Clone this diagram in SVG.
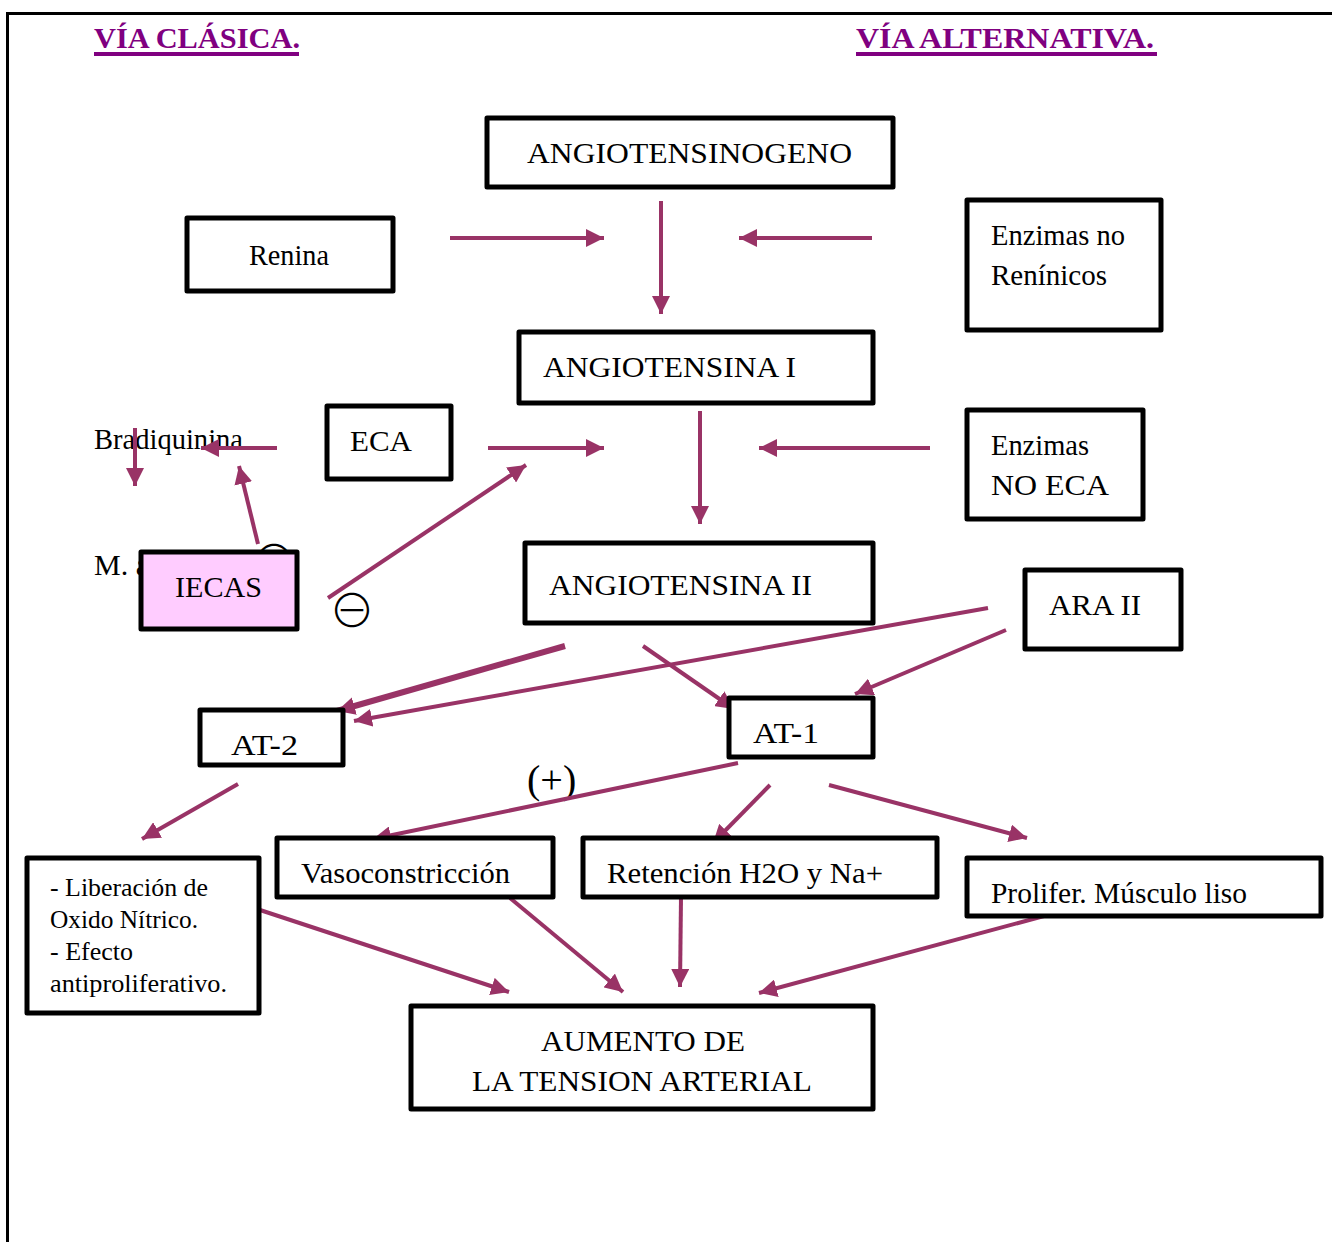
<svg xmlns="http://www.w3.org/2000/svg" width="1332" height="1242" viewBox="0 0 1332 1242">
<style>
  text { font-family: "Liberation Serif", "Times New Roman", serif; fill: #000; }
  .t { font-size: 30px; }
  .s { font-size: 25px; }
  .title { font-size: 29px; font-weight: bold; fill: #800080; }
  .box { fill: #fff; stroke: #000; stroke-width: 5; stroke-linejoin: round; }
  .pink { fill: #FFCCFF; }
  .c { fill: none; stroke: #993366; stroke-width: 4; marker-end: url(#ah); }
  .thick { stroke-width: 6; }
  .sym { font-family: "Noto Sans CJK JP", "DejaVu Sans", sans-serif; font-weight: 300; }
</style>
<defs>
  <marker id="ah" markerUnits="userSpaceOnUse" markerWidth="20" markerHeight="18" refX="18" refY="9" orient="auto">
    <path d="M0,0 L18,9 L0,18 Z" fill="#993366"/>
  </marker>
</defs>
<rect width="1332" height="1242" fill="#fff"/>
<!-- frame -->
<path d="M7.5,1242 L7.5,13.5 L1332,13.5" fill="none" stroke="#000" stroke-width="3"/>

<g id="titles">
  <text class="title" x="94" y="48" textLength="206" lengthAdjust="spacingAndGlyphs">VÍA CLÁSICA.</text>
  <rect x="94" y="52" width="205" height="4" fill="#800080"/>
  <text class="title" x="856" y="48" textLength="298" lengthAdjust="spacingAndGlyphs">VÍA ALTERNATIVA.</text>
  <rect x="856" y="52" width="301" height="4" fill="#800080"/>
</g>

<g id="labels">
  <text class="t" x="94" y="449" textLength="149" lengthAdjust="spacingAndGlyphs">Bradiquinina</text>
  <text class="t" x="94" y="575">M. a</text>
  <text class="sym" x="274" y="578" style="font-size:46px" text-anchor="middle">⊖</text>
  <text class="sym" x="352" y="627" style="font-size:46px" text-anchor="middle">⊖</text>
  <text x="527" y="793" style="font-size:40px">(+)</text>
</g>

<g id="connectors">
  <line class="c" x1="450" y1="238" x2="604" y2="238"/>
  <line class="c" x1="872" y1="238" x2="739" y2="238"/>
  <line class="c" x1="661" y1="201" x2="661" y2="314"/>
  <line class="c" x1="488" y1="448" x2="604" y2="448"/>
  <line class="c" x1="930" y1="448" x2="759" y2="448"/>
  <line class="c" x1="700" y1="411" x2="700" y2="524"/>
  <line class="c" x1="277" y1="448" x2="201" y2="448"/>
  <line class="c" x1="135" y1="428" x2="135" y2="486"/>
  <line class="c" x1="258" y1="544" x2="239" y2="466"/>
  <line class="c" x1="328" y1="598" x2="526" y2="465"/>
  <line class="c thick" x1="565" y1="646" x2="337" y2="711"/>
  <line class="c" x1="988" y1="608" x2="354" y2="721"/>
  <line class="c" x1="643" y1="646" x2="734" y2="709"/>
  <line class="c" x1="1006" y1="630" x2="855" y2="694"/>
  <line class="c" x1="238" y1="784" x2="142" y2="839"/>
  <line class="c" x1="738" y1="763" x2="373" y2="839"/>
  <line class="c" x1="770" y1="785" x2="713" y2="843"/>
  <line class="c" x1="829" y1="785" x2="1027" y2="838"/>
  <line class="c" x1="260" y1="910" x2="509" y2="992"/>
  <line class="c" x1="510" y1="898" x2="623" y2="992"/>
  <line class="c" x1="681" y1="897" x2="680" y2="987"/>
  <line class="c" x1="1044" y1="916" x2="759" y2="993"/>
</g>

<g id="angiotensinogeno">
  <rect class="box" x="487" y="118" width="406" height="69"/>
  <text class="t" x="527" y="163" textLength="325" lengthAdjust="spacingAndGlyphs">ANGIOTENSINOGENO</text>
</g>
<g id="renina">
  <rect class="box" x="187" y="218" width="206" height="73"/>
  <text class="t" x="249" y="265" textLength="80" lengthAdjust="spacingAndGlyphs">Renina</text>
</g>
<g id="enzimas-no-reninicos">
  <rect class="box" x="967" y="200" width="194" height="130"/>
  <text class="t" x="991" y="245" textLength="134" lengthAdjust="spacingAndGlyphs">Enzimas no</text>
  <text class="t" x="991" y="285" textLength="116" lengthAdjust="spacingAndGlyphs">Renínicos</text>
</g>
<g id="angiotensina-1">
  <rect class="box" x="519" y="332" width="354" height="71"/>
  <text class="t" x="543" y="377" textLength="253" lengthAdjust="spacingAndGlyphs">ANGIOTENSINA I</text>
</g>
<g id="eca">
  <rect class="box" x="327" y="406" width="124" height="73"/>
  <text class="t" x="350" y="451" textLength="62" lengthAdjust="spacingAndGlyphs">ECA</text>
</g>
<g id="enzimas-no-eca">
  <rect class="box" x="967" y="410" width="176" height="109"/>
  <text class="t" x="991" y="455" textLength="98" lengthAdjust="spacingAndGlyphs">Enzimas</text>
  <text class="t" x="991" y="495" textLength="118" lengthAdjust="spacingAndGlyphs">NO ECA</text>
</g>
<g id="iecas">
  <rect class="box pink" x="141" y="552" width="156" height="77"/>
  <text class="t" x="175" y="597" textLength="87" lengthAdjust="spacingAndGlyphs">IECAS</text>
</g>
<g id="angiotensina-2">
  <rect class="box" x="525" y="543" width="348" height="80"/>
  <text class="t" x="549" y="595" textLength="263" lengthAdjust="spacingAndGlyphs">ANGIOTENSINA II</text>
</g>
<g id="ara-2">
  <rect class="box" x="1025" y="570" width="156" height="79"/>
  <text class="t" x="1049" y="615" textLength="92" lengthAdjust="spacingAndGlyphs">ARA II</text>
</g>
<g id="at-2">
  <rect class="box" x="200" y="710" width="143" height="55"/>
  <text class="t" x="231" y="755" textLength="67" lengthAdjust="spacingAndGlyphs">AT-2</text>
</g>
<g id="at-1">
  <rect class="box" x="729" y="698" width="144" height="59"/>
  <text class="t" x="753" y="743" textLength="66" lengthAdjust="spacingAndGlyphs">AT-1</text>
</g>
<g id="liberacion">
  <rect class="box" x="27" y="858" width="232" height="155"/>
  <text class="s" x="50" y="896" textLength="158" lengthAdjust="spacingAndGlyphs">- Liberación de</text>
  <text class="s" x="50" y="928" textLength="148" lengthAdjust="spacingAndGlyphs">Oxido Nítrico.</text>
  <text class="s" x="50" y="960" textLength="83" lengthAdjust="spacingAndGlyphs">- Efecto</text>
  <text class="s" x="50" y="992" textLength="177" lengthAdjust="spacingAndGlyphs">antiproliferativo.</text>
</g>
<g id="vasoconstriccion">
  <rect class="box" x="277" y="838" width="276" height="59"/>
  <text class="t" x="301" y="883" textLength="209" lengthAdjust="spacingAndGlyphs">Vasoconstricción</text>
</g>
<g id="retencion">
  <rect class="box" x="583" y="838" width="354" height="59"/>
  <text class="t" x="607" y="883" textLength="276" lengthAdjust="spacingAndGlyphs">Retención H2O y Na+</text>
</g>
<g id="prolifer">
  <rect class="box" x="967" y="858" width="354" height="58"/>
  <text class="t" x="991" y="903" textLength="256" lengthAdjust="spacingAndGlyphs">Prolifer. Músculo liso</text>
</g>
<g id="aumento">
  <rect class="box" x="411" y="1006" width="462" height="103"/>
  <text class="t" x="541" y="1051" textLength="204" lengthAdjust="spacingAndGlyphs">AUMENTO DE</text>
  <text class="t" x="472" y="1091" textLength="340" lengthAdjust="spacingAndGlyphs">LA TENSION ARTERIAL</text>
</g>
</svg>
